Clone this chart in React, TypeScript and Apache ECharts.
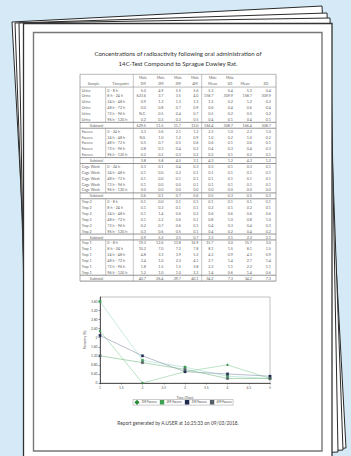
import React, { useEffect, useRef } from "react";
import * as echarts from "echarts";

const TITLE_LINES = [
  "Concentrations of radioactivity following oral administration of",
  "14C-Test Compound to Sprague Dawley Rat.",
];
const HEADER_TOP = ["", "", "Male", "Male", "Male", "Male", "Male", "Male", "", ""];
const HEADER_BOTTOM = ["Sample", "Timepoint", "1M", "2M", "3M", "4M", "Mean", "SD", "Mean", "SD"];

const TIMES_8H = ["0 - 8 h", "8 h - 24 h", "24 h - 48 h", "48 h - 72 h", "72 h - 96 h", "96 h - 120 h"];
const TIMES_24H = ["0 - 24 h", "24 h - 48 h", "48 h - 72 h", "72 h - 96 h", "96 h - 120 h"];

const URINE_ROWS = [
  ["5.0", "4.9", "5.5", "5.6", "5.3", "0.4", "5.3", "0.4"],
  ["623.6", "3.7", "3.5", "4.0", "158.7", "309.9", "158.7", "309.9"],
  ["0.9", "1.3", "1.3", "1.3", "1.2", "0.2", "1.2", "0.2"],
  ["0.0", "0.8", "0.7", "0.9", "0.6", "0.4", "0.6", "0.4"],
  ["N.C.", "0.5", "0.4", "0.7", "0.5", "0.2", "0.5", "0.2"],
  ["0.2", "0.3", "0.3", "0.5", "0.4", "0.1", "0.4", "0.1"],
];
const URINE_SUBTOTAL = ["629.5", "11.5", "11.7", "13.0", "166.4", "308.7", "166.4", "308.7"];

const FAECES_ROWS = [
  ["2.3", "3.6", "2.1", "1.2", "2.3", "1.0", "2.3", "1.0"],
  ["N.S.", "1.0", "1.2", "0.9", "1.0", "0.2", "1.0", "0.2"],
  ["0.5", "0.7", "0.5", "0.6", "0.6", "0.1", "0.6", "0.1"],
  ["0.8", "0.3", "0.4", "0.2", "0.4", "0.3", "0.4", "0.3"],
  ["0.2", "0.2", "0.3", "0.2", "0.2", "0.1", "0.2", "0.1"],
];
const FAECES_SUBTOTAL = ["3.8", "5.8", "4.5", "3.1", "4.3", "1.2", "4.3", "1.2"];

const CAGE_ROWS = [
  ["0.3", "0.1", "0.4", "0.3", "0.3", "0.1", "0.3", "0.1"],
  ["0.1", "0.0", "0.2", "0.1", "0.1", "0.1", "0.1", "0.1"],
  ["0.1", "0.0", "0.1", "0.1", "0.1", "0.1", "0.1", "0.1"],
  ["0.1", "0.0", "0.0", "0.1", "0.1", "0.1", "0.1", "0.1"],
  ["0.0", "0.0", "0.0", "0.0", "0.0", "0.0", "0.0", "0.0"],
];
const CAGE_SUBTOTAL = ["0.6", "0.1", "0.7", "0.6", "0.5", "0.3", "0.5", "0.3"];

const TRAP2_ROWS = [
  ["0.1", "0.0", "0.1", "0.1", "0.1", "0.1", "0.1", "0.1"],
  ["0.1", "0.3", "0.1", "0.1", "0.2", "0.1", "0.2", "0.1"],
  ["0.1", "1.4", "0.6", "0.2", "0.6", "0.6", "0.6", "0.6"],
  ["0.1", "2.2", "0.6", "0.1", "0.8", "1.0", "0.8", "1.0"],
  ["0.2", "0.7", "0.6", "0.1", "0.4", "0.3", "0.4", "0.3"],
  ["0.3", "0.6", "0.5", "0.1", "0.4", "0.2", "0.4", "0.2"],
];
const TRAP2_SUBTOTAL = ["0.9", "5.2", "2.5", "0.7", "2.3", "2.1", "2.3", "2.1"];

const TRAP1_ROWS = [
  ["19.3", "12.6", "13.8", "16.9", "15.7", "3.0", "15.7", "3.0"],
  ["10.2", "7.0", "7.2", "7.8", "8.1", "1.5", "8.1", "1.5"],
  ["4.8", "3.3", "3.9", "5.2", "4.3", "0.9", "4.3", "0.9"],
  ["3.4", "1.0", "2.3", "4.1", "2.7", "1.4", "2.7", "1.4"],
  ["1.8", "1.5", "1.5", "3.8", "2.2", "1.1", "2.2", "1.1"],
  ["1.2", "1.0", "1.0", "2.3", "1.4", "0.6", "1.4", "0.6"],
];
const TRAP1_SUBTOTAL = ["40.7", "26.4", "29.7", "40.1", "34.2", "7.3", "34.2", "7.3"];

const SAMPLES = ["Urine", "Faeces", "Cage Wash", "Trap 2", "Trap 1"];

const DAYS = [1, 2, 3, 4, 5];
const FAECES_1M = [2.3, 0, 0.5, 0.8, 0.2];
const FAECES_2M = [3.6, 1.0, 0.7, 0.3, 0.2];
const FAECES_3M = [2.1, 1.2, 0.5, 0.4, 0.3];
const FAECES_4M = [1.2, 0.9, 0.6, 0.2, 0.2];
const SERIES_NAMES = ["1M Faeces", "2M Faeces", "3M Faeces", "4M Faeces"];

const FOOTER = "Report generated by A.USER at 16:25:33 on 09/03/2018.";

const FONT = "Lato, 'Open Sans', sans-serif";

export default function App() {
  const ref = useRef<HTMLDivElement>(null);
  useEffect(() => {
    document.body.style.margin = "0";
    if (!ref.current) return;
    const chart = echarts.init(ref.current, undefined, { renderer: "svg" });

    const groups = [
      { sample: SAMPLES[0], times: TIMES_8H, rows: URINE_ROWS, sub: URINE_SUBTOTAL },
      { sample: SAMPLES[1], times: TIMES_24H, rows: FAECES_ROWS, sub: FAECES_SUBTOTAL },
      { sample: SAMPLES[2], times: TIMES_24H, rows: CAGE_ROWS, sub: CAGE_SUBTOTAL },
      { sample: SAMPLES[3], times: TIMES_8H, rows: TRAP2_ROWS, sub: TRAP2_SUBTOTAL },
      { sample: SAMPLES[4], times: TIMES_8H, rows: TRAP1_ROWS, sub: TRAP1_SUBTOTAL },
    ];

    const g: any[] = [];
    const Z = -10;
    const page = (pts: number[][], lw = 1) => ({
      type: "polygon",
      z: Z,
      shape: { points: pts },
      style: { fill: "#ffffff", stroke: "#2a2a2a", lineWidth: lw },
    });
    g.push(page([[12, 22], [322, 6], [346, 448], [36, 466]]));
    g.push(page([[15, 23], [327, 13], [343, 450], [31, 466]]));
    g.push(page([[19, 23], [330, 18], [338, 452], [27, 466]]));
    g.push({
      type: "rect", z: Z,
      shape: { x: 23.5, y: 23.5, width: 308.5, height: 445 },
      style: { fill: "#ffffff", stroke: "#333", lineWidth: 1.3 },
    });
    g.push({
      type: "rect", z: Z,
      shape: { x: 33.5, y: 32.5, width: 288.5, height: 418.5 },
      style: { fill: "#ffffff", stroke: "#777", lineWidth: 1.4 },
    });

    TITLE_LINES.forEach((t, i) => {
      g.push({
        type: "text", z: Z,
        style: { text: t, x: 178, y: 53 + i * 10, align: "center", verticalAlign: "middle", fontSize: 6.1, fontFamily: FONT, fill: "#333" },
      });
    });

    const ROW_H = 5.88;
    const FIRST_Y = 90;
    const L = 80, R = 276;
    const TOP = 74.3;
    const HEAD_BOTTOM = FIRST_Y - ROW_H / 2;
    const VAL_RIGHT = [146, 163.3, 181, 198.5, 213.5, 233, 252, 271];
    const HEAD_CENTER = [143, 160.7, 178, 195, 212.7, 230, 245, 266];
    const TXT = "#666";
    const LINE = "#8a8a8a";
    const txt = (s: string, x: number, y: number, align = "left") => ({
      type: "text", z: Z,
      style: { text: s, x, y, align, verticalAlign: "middle", fontSize: 3.7, fontFamily: FONT, fill: TXT },
    });
    const hline = (x1: number, x2: number, y: number, w = 0.5, c = LINE) => ({
      type: "line", z: Z, shape: { x1, y1: y, x2, y2: y }, style: { stroke: c, lineWidth: w },
    });
    const vline = (x: number, y1: number, y2: number, w = 0.5, c = LINE) => ({
      type: "line", z: Z, shape: { x1: x, y1, x2: x, y2 }, style: { stroke: c, lineWidth: w },
    });

    HEADER_TOP.forEach((h, i) => {
      if (!h) return;
      g.push(txt(h, HEAD_CENTER[i - 2], 77, "center"));
    });
    HEADER_BOTTOM.forEach((h, i) => {
      const x = i === 0 ? 93.5 : i === 1 ? 120.5 : HEAD_CENTER[i - 2];
      g.push(txt(h, x, 83.5, "center"));
    });

    let row = 0;
    const subRows: number[] = [];
    const groupStarts: number[] = [];
    groups.forEach((gr) => {
      groupStarts.push(row);
      gr.rows.forEach((vals, j) => {
        const y = FIRST_Y + row * ROW_H;
        g.push(txt(gr.sample, 81.7, y));
        g.push(txt(gr.times[j], 107.3, y));
        vals.forEach((v, k) => g.push(txt(v, VAL_RIGHT[k], y, "right")));
        row++;
      });
      const y = FIRST_Y + row * ROW_H;
      subRows.push(row);
      g.push({
        type: "rect", z: Z - 1,
        shape: { x: L, y: y - ROW_H / 2, width: R - L, height: ROW_H },
        style: { fill: "#e6e6e6" },
      });
      g.push(txt("Subtotal", 96.5, y, "center"));
      gr.sub.forEach((v, k) => g.push(txt(v, VAL_RIGHT[k], y, "right")));
      row++;
    });
    const BOTTOM = FIRST_Y + (row - 0.5) * ROW_H;

    g.push(hline(L, R, TOP, 0.6));
    g.push(hline(L, R, HEAD_BOTTOM, 0.6));
    subRows.forEach((r) => {
      const yt = FIRST_Y + (r - 0.5) * ROW_H;
      g.push(hline(L, R, yt, 0.8, "#777"));
      g.push(hline(L, R, yt + ROW_H, 0.8, "#777"));
    });
    g.push(vline(L, TOP, BOTTOM, 0.7));
    g.push(vline(R, TOP, BOTTOM, 0.7));
    g.push(vline(133.3, TOP, BOTTOM));
    g.push(vline(201.7, TOP, BOTTOM));
    groupStarts.forEach((s, i) => {
      const y1 = FIRST_Y + (s - 0.5) * ROW_H;
      const y2 = FIRST_Y + (subRows[i] - 0.5) * ROW_H;
      g.push(vline(105.7, y1, y2));
    });

    g.push({
      type: "text", z: Z,
      style: { text: FOOTER, x: 178, y: 423, align: "center", verticalAlign: "middle", fontSize: 4.8, fontFamily: FONT, fill: "#444" },
    });

    const mk = (vals: number[]) => DAYS.map((d, i) => [d, vals[i]]);
    const lineSeries = (name: string, vals: number[], symbol: string, lineColor: string, markColor: string) => ({
      name, type: "line", data: mk(vals), symbol, symbolSize: 2.4,
      lineStyle: { color: lineColor, width: 0.6 },
      itemStyle: { color: markColor, borderColor: markColor, borderWidth: 0.3 },
    });

    const axisLabel = { fontSize: 3.3, color: "#555", fontFamily: FONT };

    chart.setOption({
      animation: false,
      backgroundColor: "#d5eaf6",
      textStyle: { fontFamily: FONT },
      graphic: g,
      grid: {
        left: 100, top: 297, width: 170, height: 86,
        show: true, borderColor: "#999", borderWidth: 0.6, backgroundColor: "#fff",
      },
      legend: {
        left: 133, top: 399.5, padding: [0.6, 1.5], itemGap: 3, itemWidth: 3, itemHeight: 3,
        borderColor: "#999", borderWidth: 0.5, backgroundColor: "#fff",
        textStyle: { fontSize: 3.2, color: "#444", fontFamily: FONT, padding: [0, 0, 0, -2] },
        data: SERIES_NAMES,
      },
      xAxis: {
        type: "value", min: 1, max: 5, interval: 0.5,
        name: "Time (Days)", nameLocation: "middle", nameGap: 13,
        nameTextStyle: { fontSize: 3.3, color: "#555", fontFamily: FONT },
        axisLine: { onZero: false, lineStyle: { color: "#333", width: 0.8 } },
        axisTick: { length: 1.5, lineStyle: { color: "#333", width: 0.5 } },
        axisLabel: { ...axisLabel, margin: 3 },
        splitLine: { show: false },
      },
      yAxis: {
        type: "value", min: 0, max: 3.8, interval: 0.4,
        name: "Recovery (%)", nameLocation: "middle", nameGap: 14, nameRotate: 90,
        nameTextStyle: { fontSize: 3.3, color: "#555", fontFamily: FONT },
        axisLine: { show: true, lineStyle: { color: "#333", width: 0.8 } },
        axisTick: { show: true, length: 1.5, lineStyle: { color: "#333", width: 0.5 } },
        axisLabel: {
          ...axisLabel, margin: 2.5, showMaxLabel: false,
          formatter: (v: number) => (Number.isInteger(v) ? String(v) : v.toFixed(2)),
        },
        splitLine: { show: false },
      },
      series: [
        lineSeries(SERIES_NAMES[0], FAECES_1M, "diamond", "#8fd09c", "#2e8b3c"),
        lineSeries(SERIES_NAMES[1], FAECES_2M, "rect", "#a3ddd2", "#3f9f55"),
        lineSeries(SERIES_NAMES[2], FAECES_3M, "rect", "#8b93ad", "#1f2b4f"),
        lineSeries(SERIES_NAMES[3], FAECES_4M, "rect", "#78bd88", "#555e66"),
      ],
    });
    return () => chart.dispose();
  }, []);
  return <div ref={ref} style={{ width: 351, height: 456 }} />;
}
